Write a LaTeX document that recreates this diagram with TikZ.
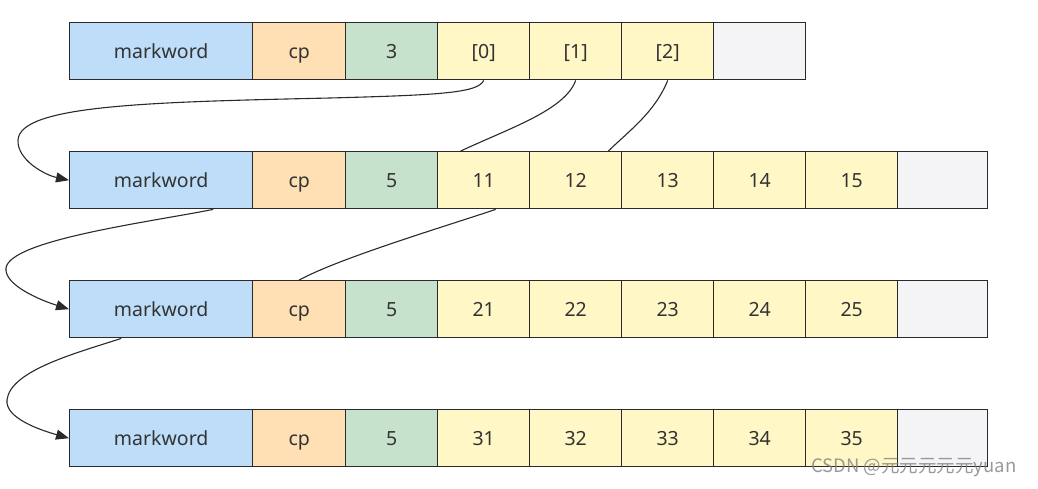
\documentclass[tikz,border=0pt]{standalone}
\usepackage{fontspec}
\setmainfont{Noto Sans}
\newfontfamily\cjk{Noto Sans CJK SC}
\usetikzlibrary{arrows.meta}
\definecolor{cblue}{HTML}{BDDDF9}
\definecolor{corange}{HTML}{FFE0B4}
\definecolor{cgreen}{HTML}{C6E1CC}
\definecolor{cyellow}{HTML}{FFF8C6}
\definecolor{cgray}{HTML}{F4F3F6}
\definecolor{cline}{HTML}{2A2A2A}
\definecolor{ctext}{HTML}{333333}
\begin{document}
\begin{tikzpicture}[x=1pt,y=-1pt,
  cell/.style={draw=cline, line width=1.4pt, inner sep=0pt, anchor=north west,
    minimum height=57pt, text=ctext, font=\fontsize{19.5}{21}\selectfont,
    text height=17pt, text depth=3pt},
  wide/.style={cell, minimum width=183pt, fill=cblue},
  cpbox/.style={cell, minimum width=93pt, fill=corange},
  numbox/.style={cell, minimum width=92pt, fill=cgreen},
  slot/.style={cell, minimum width=92pt, fill=cyellow},
  emptybox/.style={cell, fill=cgray},
  link/.style={draw=cline, line width=1.1pt},
  arr/.style={link, -{Triangle[length=13pt,width=10pt]}}]
\useasboundingbox (0,0) rectangle (1038,488);
% row 1
\node[wide]   (r1c0) at (69,22)  {markword};
\node[cpbox]  (r1c1) at (252,22) {cp};
\node[numbox] (r1c2) at (345,22) {3};
\node[slot]   (r1c3) at (437,22) {[0]};
\node[slot]   (r1c4) at (529,22) {[1]};
\node[slot]   (r1c5) at (621,22) {[2]};
\node[emptybox, minimum width=92pt] (r1c6) at (713,22) {};
% rows 2-4
\foreach \r/\y/\a/\b/\c/\d/\e in {2/151/11/12/13/14/15, 3/280/21/22/23/24/25, 4/409/31/32/33/34/35}{
  \node[wide]   (r\r c0) at (69,\y)  {markword};
  \node[cpbox]  (r\r c1) at (252,\y) {cp};
  \node[numbox] (r\r c2) at (345,\y) {5};
  \node[slot]   (r\r c3) at (437,\y) {\a};
  \node[slot]   (r\r c4) at (529,\y) {\b};
  \node[slot]   (r\r c5) at (621,\y) {\c};
  \node[slot]   (r\r c6) at (713,\y) {\d};
  \node[slot]   (r\r c7) at (805,\y) {\e};
  \node[emptybox, minimum width=90pt] (r\r c8) at (897,\y) {};
}
% connectors
\draw[arr] (r1c3.south) .. controls (478,93) and (440,95) .. (330,98)
  .. controls (150,102) and (20,105) .. (18,140)
  .. controls (17,160) and (45,175) .. (r2c0.west);
\draw[link] (r1c4.south) .. controls (565,110) and (510,128) .. ([xshift=-23pt]r2c3.north);
\draw[link] (r1c5.south) .. controls (655,112) and (630,130) .. ([xshift=-14pt]r2c4.north east);
\draw[arr] ([xshift=52pt]r2c0.south) .. controls (150,222) and (10,240) .. (6,268)
  .. controls (4,285) and (40,300) .. (r3c0.west);
\draw[link] ([xshift=12pt]r2c3.south) .. controls (440,228) and (340,258) .. (r3c1.north);
\draw[arr] ([xshift=-40pt]r3c0.south) .. controls (80,352) and (10,370) .. (7,400)
  .. controls (5,418) and (40,430) .. (r4c0.west);
% watermark
\node[text=gray, opacity=0.8, font=\cjk\fontsize{18.5}{20}\selectfont, anchor=west, inner sep=0pt] (wm) at (811,468) {CSDN @元元元元元yuan};
\end{tikzpicture}
\end{document}
